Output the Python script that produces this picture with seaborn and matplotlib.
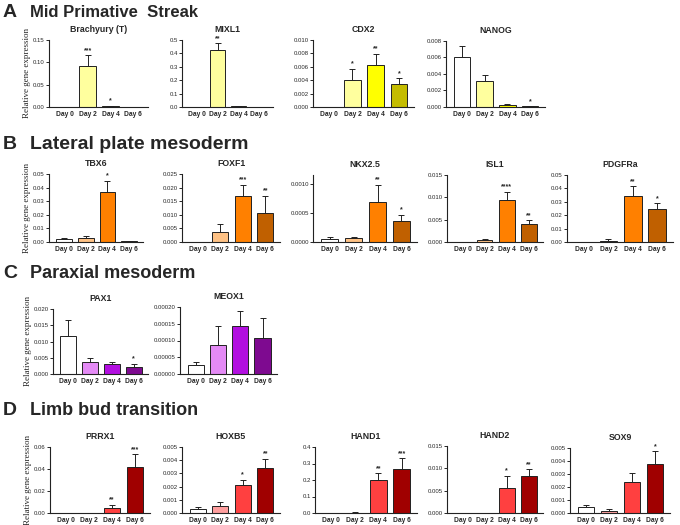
import numpy as np
import pandas as pd
import seaborn as sns
import matplotlib as mpl
mpl.use('Agg')
import matplotlib.pyplot as plt
from matplotlib.ticker import FormatStrFormatter

sns.set_theme(style='ticks')
plt.rcParams['font.family'] = ['Liberation Sans', 'DejaVu Sans']

# ---------------------------------------------------------
# data (mean, sem, significance)
days = ['Day 0', 'Day 2', 'Day 4', 'Day 6']

brachyury_mean = [0.0, 0.091, 0.0015, 0.0002]
brachyury_sem = [0.0, 0.025, 0.0008, 0.0]
brachyury_sig = ['', '***', '*', '']

mixl1_mean = [0.0, 0.425, 0.008, 0.002]
mixl1_sem = [0.0, 0.05, 0.003, 0.0]
mixl1_sig = ['', '**', '', '']

cdx2_mean = [0.00002, 0.0040, 0.0062, 0.0034]
cdx2_sem = [0.0, 0.0017, 0.0017, 0.0009]
cdx2_sig = ['', '*', '**', '*']

nanog_mean = [0.0060, 0.0031, 0.0003, 0.00008]
nanog_sem = [0.0014, 0.0008, 0.00008, 0.00002]
nanog_sig = ['', '', '', '*']

tbx6_mean = [0.0022, 0.0028, 0.0365, 0.0008]
tbx6_sem = [0.0006, 0.0015, 0.0085, 0.0003]
tbx6_sig = ['', '', '*', '']

foxf1_mean = [0.0, 0.0035, 0.017, 0.0107]
foxf1_sem = [0.0, 0.0031, 0.004, 0.0063]
foxf1_sig = ['', '', '***', '**']

nkx25_mean = [0.00006, 0.00007, 0.00069, 0.00036]
nkx25_sem = [0.00002, 0.00002, 0.00029, 0.00011]
nkx25_sig = ['', '', '**', '*']

isl1_mean = [0.00005, 0.0004, 0.0094, 0.0041]
isl1_sem = [0.0, 0.0002, 0.0018, 0.0008]
isl1_sig = ['', '', '****', '**']

pdgfra_mean = [0.0002, 0.0010, 0.034, 0.0245]
pdgfra_sem = [0.0, 0.001, 0.0075, 0.0045]
pdgfra_sig = ['', '', '**', '*']

pax1_mean = [0.0117, 0.0037, 0.0031, 0.0023]
pax1_sem = [0.0048, 0.0012, 0.0005, 0.0008]
pax1_sig = ['', '', '', '*']

meox1_mean = [0.000028, 0.000088, 0.000144, 0.000106]
meox1_sem = [0.000009, 0.000056, 0.000045, 0.000062]
meox1_sig = ['', '', '', '']

prrx1_mean = [0.0, 0.0, 0.005, 0.0415]
prrx1_sem = [0.0, 0.0, 0.0025, 0.012]
prrx1_sig = ['', '', '**', '***']

hoxb5_mean = [0.0003, 0.0005, 0.0021, 0.0034]
hoxb5_sem = [0.00015, 0.00033, 0.0004, 0.0007]
hoxb5_sig = ['', '', '*', '**']

hand1_mean = [0.0, 0.003, 0.2, 0.267]
hand1_sem = [0.0, 0.002, 0.042, 0.066]
hand1_sig = ['', '', '**', '***']

hand2_mean = [0.0, 0.0, 0.0056, 0.0083]
hand2_sem = [0.0, 0.0, 0.0027, 0.0015]
hand2_sig = ['', '', '*', '**']

sox9_mean = [0.00044, 0.00018, 0.00236, 0.0038]
sox9_sem = [0.00016, 0.00012, 0.00074, 0.00094]
sox9_sig = ['', '', '', '*']

# ---------------------------------------------------------
yellow = ['#ffffff', '#ffff9e', '#ffff00', '#c4bc00']
orange = ['#ffffff', '#ffc285', '#ff8000', '#c06000']
purple = ['#ffffff', '#e48af5', '#b20fe0', '#7e0a90']
red = ['#ffffff', '#ff9e9e', '#ff4040', '#a00000']

# gene, mean, sem, sig, (ymax, ystep, decimals), box in px (left, top, right, bottom)
sections = [
    ('A', 'Mid Primative  Streak', 12, 17, yellow, [
        ('Brachyury (T)', brachyury_mean, brachyury_sem, brachyury_sig, (0.15, 0.05, 2), (49, 40, 148, 107)),
        ('MIXL1', mixl1_mean, mixl1_sem, mixl1_sig, (0.5, 0.1, 1), (182, 40, 273, 107)),
        ('CDX2', cdx2_mean, cdx2_sem, cdx2_sig, (0.010, 0.002, 3), (313, 40, 414, 107)),
        ('NANOG', nanog_mean, nanog_sem, nanog_sig, (0.008, 0.002, 3), (446, 41, 545, 107)),
    ]),
    ('B', 'Lateral plate mesoderm', 14, 149, orange, [
        ('TBX6', tbx6_mean, tbx6_sem, tbx6_sig, (0.05, 0.01, 2), (49, 174, 143, 242)),
        ('FOXF1', foxf1_mean, foxf1_sem, foxf1_sig, (0.025, 0.005, 3), (182, 174, 280, 242)),
        ('NKX2.5', nkx25_mean, nkx25_sem, nkx25_sig, (0.00115, 0.0005, 4), (313, 175, 417, 242)),
        ('ISL1', isl1_mean, isl1_sem, isl1_sig, (0.015, 0.005, 3), (447, 175, 543, 242)),
        ('PDGFRa', pdgfra_mean, pdgfra_sem, pdgfra_sig, (0.05, 0.01, 2), (567, 175, 673, 242)),
    ]),
    ('C', 'Paraxial mesoderm', 13, 278, purple, [
        ('PAX1', pax1_mean, pax1_sem, pax1_sig, (0.020, 0.005, 3), (53, 309, 148, 374)),
        ('MEOX1', meox1_mean, meox1_sem, meox1_sig, (0.0002, 0.00005, 5), (180, 307, 277, 374)),
    ]),
    ('D', 'Limb bud transition', 13, 415, red, [
        ('PRRX1', prrx1_mean, prrx1_sem, prrx1_sig, (0.06, 0.02, 2), (50, 447, 150, 513)),
        ('HOXB5', hoxb5_mean, hoxb5_sem, hoxb5_sig, (0.005, 0.001, 3), (182, 447, 280, 513)),
        ('HAND1', hand1_mean, hand1_sem, hand1_sig, (0.4, 0.1, 1), (315, 447, 417, 513)),
        ('HAND2', hand2_mean, hand2_sem, hand2_sig, (0.015, 0.005, 3), (447, 446, 543, 513)),
        ('SOX9', sox9_mean, sox9_sem, sox9_sig, (0.005, 0.001, 3), (570, 448, 670, 513)),
    ]),
]

W, H = 680, 525
fig = plt.figure(figsize=(W / 100, H / 100), dpi=100)

for letter, title, tsize, base_y, colors, panels in sections:
    fig.text(3 / W, 1 - base_y / H, letter, fontsize=14, fontweight='bold', va='baseline')
    fig.text(30 / W, 1 - base_y / H, title, fontsize=tsize, fontweight='bold', va='baseline')

    for i, (gene, mean, sem, sig, (ymax, ystep, dec), box) in enumerate(panels):
        l, t, r, b = box
        ax = fig.add_axes([l / W, 1 - b / H, (r - l) / W, (b - t) / H])
        df = pd.DataFrame({'day': days, 'value': mean})
        sns.barplot(data=df, x='day', y='value', hue='day', palette=colors, legend=False,
                    saturation=1, width=0.72, edgecolor='#222222', linewidth=0.7, ax=ax)
        ax.errorbar(np.arange(len(days)), mean, yerr=[np.zeros(len(sem)), sem], fmt='none',
                    ecolor='#222222', elinewidth=0.7, capsize=2, capthick=0.7)
        for j, s in enumerate(sig):
            if s:
                ax.text(j, mean[j] + sem[j] + ymax * 0.02, s, ha='center', va='bottom',
                        fontsize=5, fontweight='bold')

        ax.set_xlim(-0.7, 3.65)
        ax.set_ylim(0, ymax)
        ax.set_yticks(np.arange(0, ymax + 1e-12, ystep))
        ax.yaxis.set_major_formatter(FormatStrFormatter('%.' + str(dec) + 'f'))
        sns.despine(ax=ax)
        for sp in ['left', 'bottom']:
            ax.spines[sp].set_linewidth(0.8)
            ax.spines[sp].set_color('#222222')
        ax.tick_params(axis='y', labelsize=4.3, length=2, width=0.7, pad=1)
        ax.tick_params(axis='x', labelsize=4.8, length=0, pad=3)
        for lab in ax.get_xticklabels():
            lab.set_fontweight('bold')
        ax.set_xlabel('')
        ax.set_title(gene, fontsize=6.3, fontweight='bold', pad=6)
        if i == 0:
            ax.set_ylabel('Relative gene expression', fontsize=6.5, family='Liberation Serif', labelpad=1.5)
        else:
            ax.set_ylabel('')

plt.savefig('out.png', dpi=100)
